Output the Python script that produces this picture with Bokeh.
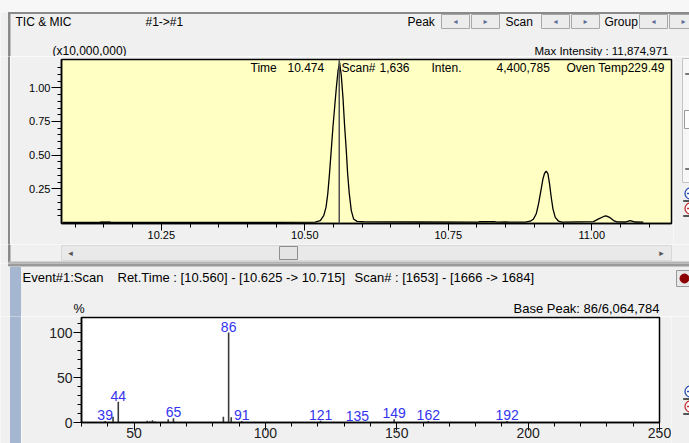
import numpy as np
from bokeh.plotting import figure
from bokeh.models import Range1d, FixedTicker, NumeralTickFormatter, Label, Span
from bokeh.layouts import column, row
from bokeh.core.properties import value
from bokeh.embed import file_html
from bokeh.resources import INLINE

# ---------------- data ----------------
# TIC chromatogram: retention time (min) and intensity (x10,000,000)
tic_time = [10.078, 10.140, 10.165, 10.300, 10.450, 10.518,
            10.527, 10.533, 10.537, 10.540, 10.543, 10.546, 10.549, 10.552, 10.555, 10.558, 10.5606,
            10.5636, 10.5666, 10.5693, 10.5723, 10.5746, 10.5775, 10.581, 10.585, 10.591, 10.602,
            10.700, 10.802, 10.805, 10.830, 10.835, 10.850, 10.884,
            10.893, 10.8986, 10.9033, 10.9073, 10.9115, 10.915, 10.9178, 10.9207, 10.9237, 10.9265,
            10.9294, 10.9324, 10.9364, 10.9422, 10.9481,
            11.003, 11.012, 11.021, 11.025, 11.031, 11.038, 11.044, 11.058, 11.067, 11.076, 11.090]
tic_inten = [0.002, 0.002, 0.002, 0.002, 0.002, 0.003,
             0.015, 0.052, 0.114, 0.213, 0.361, 0.534, 0.707, 0.856, 1.004, 1.128, 1.187,
             1.090, 0.920, 0.720, 0.534, 0.364, 0.215, 0.089, 0.027, 0.009, 0.006,
             0.004, 0.003, 0.006, 0.006, 0.003, 0.004, 0.003,
             0.010, 0.027, 0.065, 0.139, 0.238, 0.324, 0.366, 0.381, 0.362, 0.287,
             0.188, 0.102, 0.039, 0.010, 0.003,
             0.007, 0.027, 0.045, 0.050, 0.039, 0.015, 0.005, 0.004, 0.015, 0.004, 0.003]
marker_start = [10.144]
marker_end = [10.161]
marker_top = [0.008]

cursor_time = 10.560
info_time = "10.474"
info_scan = "1,636"
info_inten = "4,400,785"
info_oven = "229.49"
max_intensity = "11,874,971"

top_xticks = [10.25, 10.50, 10.75, 11.00]
top_yticks = [0.25, 0.50, 0.75, 1.00]

# Mass spectrum: m/z and relative intensity (%)
ms_mz = [39, 42, 44, 55, 56, 57, 58, 63, 65, 84, 86, 87, 91, 121, 135, 149, 162, 192]
ms_int = [1.8, 6.5, 23.0, 2.0, 1.5, 2.5, 1.0, 3.5, 4.8, 6.5, 100.0, 5.8, 1.8, 2.0, 0.3, 3.7, 1.8, 1.8]
ms_labeled = [39, 44, 65, 86, 91, 121, 135, 149, 162, 192]
base_peak = "86/6,064,784"

bot_xticks = [50, 100, 150, 200, 250]
bot_yticks = [0, 50, 100]

FONT = "Liberation Sans"
GRAY = "#f0f0f0"
STRIPE = "#a4b6d0"


def decor(w, h, y0, x0=0):
    """A plain panel whose data units are the window's pixels."""
    p = figure(width=w, height=h, x_range=Range1d(x0, x0 + w), y_range=Range1d(y0 + h, y0),
               output_backend="svg", toolbar_location=None, tools="",
               x_axis_type=None, y_axis_type=None,
               min_border_left=0, min_border_right=0, min_border_top=0, min_border_bottom=0)
    p.background_fill_color = GRAY
    p.border_fill_color = GRAY
    p.outline_line_color = None
    p.grid.visible = False
    return p


def dtext(p, x, y, s, size="12px", align="left", color="black", font=FONT):
    p.text(x=[x], y=[y], text=[s], text_font=value(font), text_font_size=value(size),
           text_align=value(align), text_baseline=value("middle"), text_color=color)


def dbox(p, x0, y0, x1, y1, fill, line=None, lw=1):
    p.quad(left=[x0], right=[x1], top=[y0], bottom=[y1], fill_color=fill,
           line_color=line if line else fill, line_width=lw)


def zoom_buttons(p, x, y_plus, y_minus):
    for yy, col, plus in ((y_plus, "#2b4fb0", True), (y_minus, "#c03030", False)):
        p.circle(x=[x], y=[yy], radius=5.5, fill_color="white", line_color=col, line_width=1.3)
        p.segment(x0=[x - 3.5], y0=[yy], x1=[x + 3.5], y1=[yy], line_color=col, line_width=1.3)
        if plus:
            p.segment(x0=[x], y0=[yy - 3.5], x1=[x], y1=[yy + 3.5], line_color=col, line_width=1.3)
        dbox(p, x - 7, yy + 7, x + 6, yy + 8, "#555555")


def ltxt(p, fl, fb, x, y, s, size="12px", align="left", color="black"):
    p.add_layout(Label(x=x - fl, y=fb - y, x_units="screen", y_units="screen", text=s,
                       text_font=FONT, text_font_size=size, text_align=align,
                       text_baseline="middle", text_color=color))


# ---------------- header of the chromatogram panel (y 0..56) ----------------
hdr = decor(689, 56, 0)
dbox(hdr, 0, 0, 689, 12, "#f7f7f7")
dbox(hdr, 8, 12, 689, 13, "#8a8a8a")
dbox(hdr, 8, 12, 9.5, 56, "#8a8a8a")
dtext(hdr, 15, 21, "TIC & MIC")
dtext(hdr, 145, 21, "#1->#1")
dtext(hdr, 407, 21, "Peak")
dtext(hdr, 505, 21, "Scan")
dtext(hdr, 604, 21, "Group")
for i, (x0, x1) in enumerate([(441, 469), (471, 499), (541, 569), (571, 599), (639, 667), (669, 697)]):
    dbox(hdr, x0, 14, x1, 28, "#ececec", "#a8a8a8")
    dtext(hdr, (x0 + x1) / 2, 21, "\u25c2" if i % 2 == 0 else "\u25b8", size="8px",
          align="center", color="#5a6c96", font="DejaVu Sans")
dtext(hdr, 52, 50, "(x10,000,000)")
dtext(hdr, 668, 50, "Max Intensity : " + max_intensity, size="11.5px", align="right")

# ---------------- chromatogram (y 56..244) ----------------
top = figure(width=663, height=188, x_range=Range1d(10.076, 11.139), y_range=Range1d(-0.007, 1.21),
             output_backend="svg", toolbar_location=None, tools="",
             min_border_left=51, min_border_right=2, min_border_top=3, min_border_bottom=21)
top.background_fill_color = "#ffffc4"
top.border_fill_color = GRAY
top.outline_line_color = "black"
top.outline_line_width = 1.5
top.grid.visible = False

top.quad(left=marker_start, right=marker_end, top=marker_top, bottom=[-0.007],
         fill_color="#8c8c5a", line_color="#6b6b45", line_width=0.8)
top.line(tic_time, tic_inten, line_color="black", line_width=1.3)
top.add_layout(Span(location=cursor_time, dimension="height", line_color="#505050", line_width=1.5))

xa = top.xaxis[0]
xa.ticker = FixedTicker(ticks=top_xticks, minor_ticks=list(np.round(np.arange(10.10, 11.11, 0.05), 2)))
xa.formatter = NumeralTickFormatter(format="0.00")
ya = top.yaxis[0]
ya.ticker = FixedTicker(ticks=top_yticks, minor_ticks=list(np.round(np.arange(0.05, 1.16, 0.05), 2)))
ya.formatter = NumeralTickFormatter(format="0.00")
for ax, mo in ((xa, 7), (ya, 10)):
    ax.major_tick_out = mo
    ax.major_tick_in = 0
    ax.minor_tick_out = 4
    ax.minor_tick_in = 0
    ax.major_tick_line_color = "black"
    ax.minor_tick_line_color = "black"
    ax.axis_line_color = "black"
    ax.axis_line_width = 1.5
    ax.major_label_text_font = FONT
    ax.major_label_text_font_size = "11px"
    ax.major_label_text_color = "black"
xa.major_label_standoff = 0
ya.major_label_standoff = 1

FL, FB = 61, 223
ltxt(top, FL, FB, 250, 67, "Time")
ltxt(top, FL, FB, 287, 67, info_time)
ltxt(top, FL, FB, 341, 67, "Scan#")
ltxt(top, FL, FB, 379, 67, info_scan)
ltxt(top, FL, FB, 431, 67, "Inten.")
ltxt(top, FL, FB, 496, 67, info_inten)
ltxt(top, FL, FB, 566, 67, "Oven Temp" + info_oven)

topleft = decor(10, 188, 56)
dbox(topleft, 8, 56, 9.5, 244, "#8a8a8a")

topright = decor(16, 188, 56, x0=673)
dbox(topright, 682, 58, 695, 182, "#f7f7f7", "#c4c4c4")
dbox(topright, 684, 110, 695, 128, "#fdfdfd", "#9a9a9a")
dbox(topright, 685, 73, 689, 74, "#777777")
dbox(topright, 685, 168, 689, 169, "#777777")
zoom_buttons(topright, 690, 193, 208)

# ---------------- scrollbar strip (y 244..263) ----------------
scr = decor(689, 19, 244)
dbox(scr, 8, 244, 9.5, 262, "#8a8a8a")
dbox(scr, 61, 245, 671, 260, "#e9e9e9", "#d8d8d8")
dbox(scr, 279, 246, 297, 259, "#e4e4e4", "#8f8f8f")
dtext(scr, 70, 252.5, "\u25c2", size="9px", align="center", color="#555555", font="DejaVu Sans")
dtext(scr, 661, 252.5, "\u25b8", size="9px", align="center", color="#555555", font="DejaVu Sans")
dbox(scr, 8, 261.5, 689, 263, "#b4b4b4")

# ---------------- header of the spectrum panel (y 263..316) ----------------
mhd = decor(689, 53, 263)
dbox(mhd, 8, 263, 689, 265.5, "#9a9a9a")
dbox(mhd, 10, 267, 20, 316, STRIPE)
dbox(mhd, 676, 270, 692, 286, "#e8e8e8", "#999999")
p_dot = mhd.circle(x=[684], y=[278], radius=4.5, fill_color="#8b0000", line_color="#8b0000")
dtext(mhd, 22, 277, "Event#1:Scan", size="13px")
dtext(mhd, 117, 277, "Ret.Time : [10.560] - [10.625 -> 10.715]", size="13px")
dtext(mhd, 354, 277, "Scan# : [1653] - [1666 -> 1684]", size="13px")
dtext(mhd, 73, 308, "%", size="12.5px")
dtext(mhd, 659, 308, "Base Peak: " + base_peak, size="13px", align="right")

# ---------------- mass spectrum (y 316..443) ----------------
bot = figure(width=650, height=127, x_range=Range1d(30, 250), y_range=Range1d(0, 116.7),
             output_backend="svg", toolbar_location=None, tools="",
             min_border_left=60, min_border_right=12, min_border_top=1, min_border_bottom=21)
bot.background_fill_color = "white"
bot.border_fill_color = GRAY
bot.outline_line_color = "black"
bot.outline_line_width = 1.5
bot.grid.visible = False

bot.segment(x0=ms_mz, y0=[0] * len(ms_mz), x1=ms_mz, y1=ms_int, line_color="#3a3a3a", line_width=1.6)

bx = bot.xaxis[0]
bx.ticker = FixedTicker(ticks=bot_xticks, minor_ticks=list(range(30, 251, 10)))
bx.major_label_standoff = -3
by = bot.yaxis[0]
by.ticker = FixedTicker(ticks=bot_yticks, minor_ticks=list(range(0, 111, 10)))
by.major_label_standoff = 1
for ax in (bx, by):
    ax.major_tick_out = 8
    ax.major_tick_in = 0
    ax.minor_tick_out = 4
    ax.minor_tick_in = 0
    ax.major_tick_line_color = "black"
    ax.minor_tick_line_color = "black"
    ax.axis_line_color = "black"
    ax.axis_line_width = 1.5
    ax.major_label_text_font = FONT
    ax.major_label_text_font_size = "14px"
    ax.major_label_text_color = "#222222"

for mz, it in zip(ms_mz, ms_int):
    if mz in ms_labeled:
        bot.add_layout(Label(x=mz, y=it, x_units="data", y_units="data", y_offset=1, text=str(mz),
                             text_font=FONT, text_font_size="14px", text_align="center",
                             text_baseline="bottom", text_color="#3434f0"))

botleft = decor(21, 127, 316)
dbox(botleft, 10, 316, 20, 443, STRIPE)

botright = decor(18, 127, 316, x0=671)
zoom_buttons(botright, 690, 391, 406)

layout = column(hdr,
                row(column(topleft), top, column(topright)),
                scr, mhd,
                row(column(botleft), bot, column(botright)))
open("out.html", "w").write(file_html(layout, INLINE))
